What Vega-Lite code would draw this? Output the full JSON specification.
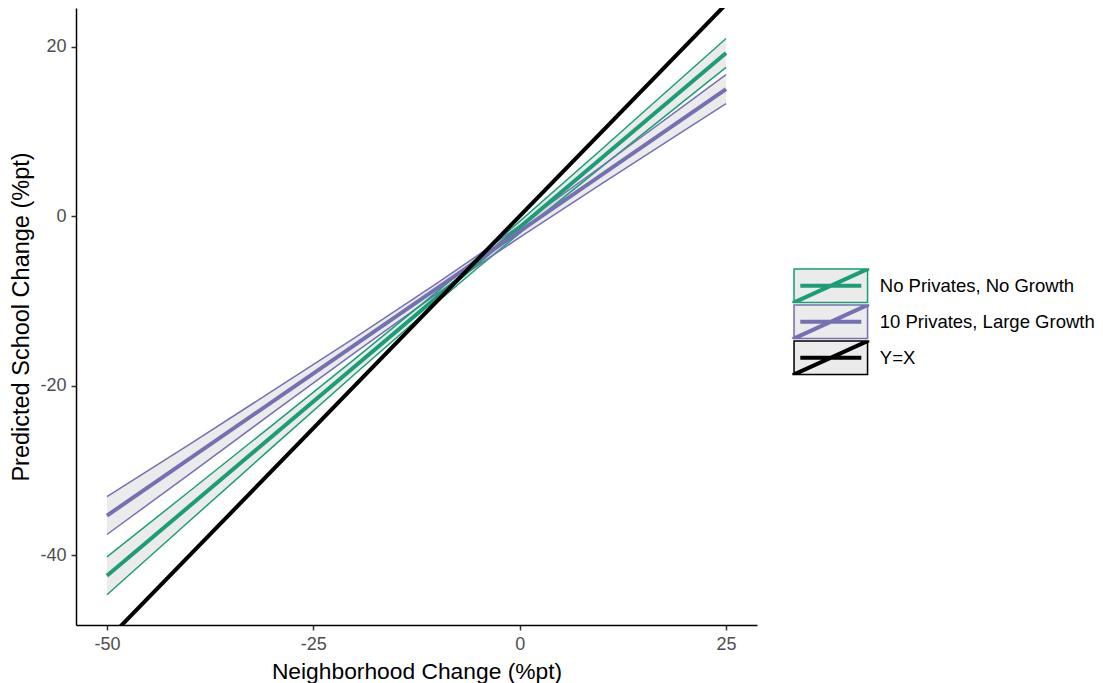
{
  "$schema": "https://vega.github.io/schema/vega-lite/v6.json",
  "autosize": {"type": "none"},
  "padding": {"left": 76, "top": 8, "right": 346, "bottom": 58},
  "width": 681,
  "height": 617,
  "background": "white",
  "config": {
    "font": "Liberation Sans",
    "view": {"stroke": null},
    "axis": {
      "grid": false,
      "domainColor": "black",
      "domainWidth": 1.5,
      "tickColor": "#333333",
      "tickWidth": 1.5,
      "tickSize": 5,
      "labelColor": "#4d4d4d",
      "labelFontSize": 18,
      "labelFont": "Liberation Sans",
      "labelPadding": 5,
      "titleFont": "Liberation Sans",
      "titleFontSize": 22.8,
      "titleFontWeight": "normal",
      "titleColor": "black"
    }
  },
  "datasets": {
    "bands": [
      {"series": "No Privates, No Growth", "x": -50, "lo": -44.63, "hi": -40.17},
      {"series": "No Privates, No Growth", "x": -40, "lo": -35.94, "hi": -32.43},
      {"series": "No Privates, No Growth", "x": -30, "lo": -27.26, "hi": -24.66},
      {"series": "No Privates, No Growth", "x": -20, "lo": -18.63, "hi": -16.86},
      {"series": "No Privates, No Growth", "x": -10, "lo": -10.14, "hi": -8.9},
      {"series": "No Privates, No Growth", "x": -5, "lo": -6.02, "hi": -4.8},
      {"series": "No Privates, No Growth", "x": 0, "lo": -2.0, "hi": -0.61},
      {"series": "No Privates, No Growth", "x": 10, "lo": 5.88, "hi": 7.96},
      {"series": "No Privates, No Growth", "x": 20, "lo": 13.66, "hi": 16.62},
      {"series": "No Privates, No Growth", "x": 25, "lo": 17.54, "hi": 20.96},
      {"series": "10 Privates, Large Growth", "x": -50, "lo": -37.53, "hi": -33.07},
      {"series": "10 Privates, Large Growth", "x": -40, "lo": -30.4, "hi": -26.89},
      {"series": "10 Privates, Large Growth", "x": -30, "lo": -23.23, "hi": -20.63},
      {"series": "10 Privates, Large Growth", "x": -20, "lo": -16.11, "hi": -14.34},
      {"series": "10 Privates, Large Growth", "x": -10, "lo": -9.13, "hi": -7.89},
      {"series": "10 Privates, Large Growth", "x": -5, "lo": -5.77, "hi": -4.55},
      {"series": "10 Privates, Large Growth", "x": 0, "lo": -2.5, "hi": -1.11},
      {"series": "10 Privates, Large Growth", "x": 10, "lo": 3.87, "hi": 5.95},
      {"series": "10 Privates, Large Growth", "x": 20, "lo": 10.14, "hi": 13.1},
      {"series": "10 Privates, Large Growth", "x": 25, "lo": 13.27, "hi": 16.69}
    ],
    "fits": [
      {"series": "No Privates, No Growth", "x": -50, "fit": -42.4},
      {"series": "No Privates, No Growth", "x": 25, "fit": 19.25},
      {"series": "10 Privates, Large Growth", "x": -50, "fit": -35.3},
      {"series": "10 Privates, Large Growth", "x": 25, "fit": 14.98},
      {"series": "Y=X", "x": -50, "fit": -50},
      {"series": "Y=X", "x": 25, "fit": 25}
    ]
  },
  "layer": [
    {
      "data": {"name": "bands"},
      "mark": {"type": "area", "color": "#999999", "fillOpacity": 0.2},
      "encoding": {
        "x": {"field": "x", "type": "quantitative", "title": "Neighborhood Change (%pt)",
              "scale": {"domain": [-53.75, 28.75], "nice": false, "zero": false},
              "axis": {"values": [-50, -25, 0, 25], "labelExpr": "datum.value + ''", "titlePadding": 7}},
        "y": {"field": "lo", "type": "quantitative", "title": "Predicted School Change (%pt)",
              "scale": {"domain": [-48.2, 24.55], "nice": false, "zero": false},
              "axis": {"values": [-40, -20, 0, 20], "labelExpr": "datum.value + ''", "titlePadding": 6, "titleFontSize": 23.5}},
        "y2": {"field": "hi"},
        "detail": {"field": "series"}
      }
    },
    {
      "data": {"name": "bands"},
      "mark": {"type": "line", "strokeWidth": 1.5},
      "encoding": {
        "x": {"field": "x", "type": "quantitative", "title": "Neighborhood Change (%pt)"},
        "y": {"field": "lo", "type": "quantitative", "title": "Predicted School Change (%pt)"},
        "color": {
          "field": "series", "type": "nominal",
          "scale": {"domain": ["No Privates, No Growth", "10 Privates, Large Growth", "Y=X"], "range": ["#1b9e77", "#7570b3", "#000000"]},
          "legend": {"title": null, "orient": "none", "legendX": 737.3, "legendY": 260.3, "padding": 0,
                     "symbolType": "M-2.1429,-1H2.1429V1H-2.1429Z", "symbolSize": 1225, "symbolFillColor": "#ebebeb",
                     "symbolStrokeWidth": 0, "symbolOpacity": 1, "rowPadding": 1,
                     "labelFont": "Liberation Sans", "labelFontSize": 18.5, "labelColor": "black", "labelOffset": 31.5, "labelLimit": 400}
        }
      }
    },
    {
      "data": {"name": "bands"},
      "mark": {"type": "line", "strokeWidth": 1.5},
      "encoding": {
        "x": {"field": "x", "type": "quantitative", "title": "Neighborhood Change (%pt)"},
        "y": {"field": "hi", "type": "quantitative", "title": "Predicted School Change (%pt)"},
        "color": {
          "field": "series", "type": "nominal",
          "scale": {"domain": ["No Privates, No Growth", "10 Privates, Large Growth", "Y=X"], "range": ["#1b9e77", "#7570b3", "#000000"]},
          "legend": {"title": null, "orient": "none", "legendX": 737.3, "legendY": 260.3, "padding": 0,
                     "symbolType": "M-2.1429,-1H2.1429V1H-2.1429Z", "symbolSize": 1225, "symbolFillColor": "#ebebeb",
                     "symbolStrokeWidth": 0, "symbolOpacity": 1, "rowPadding": 1,
                     "labelFont": "Liberation Sans", "labelFontSize": 18.5, "labelColor": "black", "labelOffset": 31.5, "labelLimit": 400}
        }
      }
    },
    {
      "mark": {"type": "rule", "color": "black", "strokeWidth": 1.5},
      "encoding": {"y": {"datum": 0}}
    },
    {
      "data": {"name": "fits"},
      "mark": {"type": "line", "strokeWidth": 4, "clip": true},
      "encoding": {
        "x": {"field": "x", "type": "quantitative", "title": "Neighborhood Change (%pt)"},
        "y": {"field": "fit", "type": "quantitative", "title": "Predicted School Change (%pt)"},
        "stroke": {
          "field": "series", "type": "nominal", "sort": null,
          "scale": {"range": ["#1b9e77", "#7570b3", "#000000"]},
          "legend": null
        },
        "fill": {
          "field": "series", "type": "nominal", "sort": null,
          "scale": {"range": ["#1b9e77", "#7570b3", "#000000"]},
          "legend": {"title": null, "orient": "none", "legendX": 737.3, "legendY": 260.3, "padding": 0,
                     "symbolType": "M-2.1429,-1H2.1429V1H-2.1429ZM-2.0571,-0.9143V0.9143H2.0571V-0.9143ZM-1.7429,-0.1143H1.7429V0.1143H-1.7429ZM-2.2,0.8743L1.9234,-1L2.2,-1L2.2,-0.8743L-1.9234,1L-2.2,1Z",
                     "symbolSize": 1225, "symbolStrokeWidth": 0, "symbolOpacity": 1, "rowPadding": 1,
                     "labelFont": "Liberation Sans", "labelFontSize": 18.5, "labelOpacity": 0, "labelOffset": 31.5, "labelLimit": 400}
        }
      }
    }
  ]
}
